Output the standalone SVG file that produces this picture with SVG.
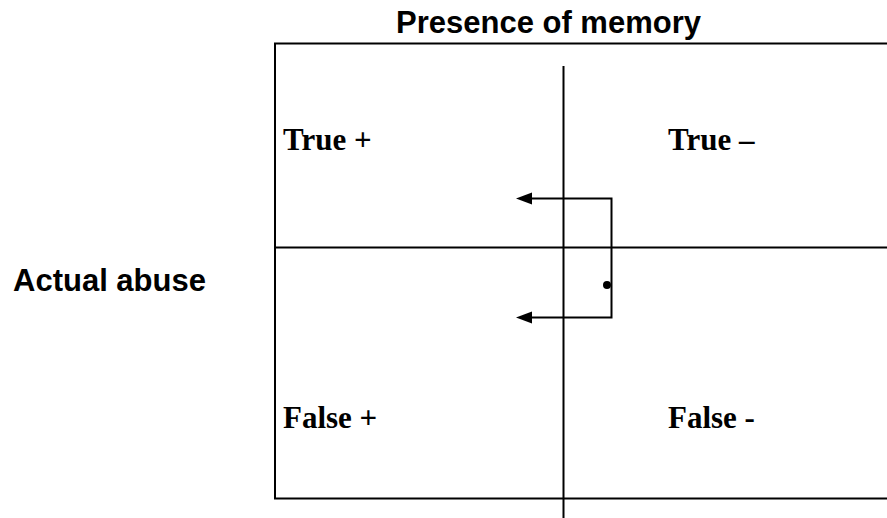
<svg xmlns="http://www.w3.org/2000/svg" width="887" height="518" viewBox="0 0 887 518">
<style>
.frame{fill:none;stroke:#000;stroke-width:2}
.ln{stroke:#000;stroke-width:2;fill:none}
.h{font-family:"Liberation Sans",Arial,sans-serif;font-weight:bold;font-size:31px;fill:#000}
.q{font-family:"Liberation Serif","Times New Roman",serif;font-weight:bold;font-size:31px;fill:#000}
</style>
<rect width="887" height="518" fill="#fff"/>
<g id="labels">
<text class="h" x="396" y="33">Presence of memory</text>
<text class="h" x="13" y="291">Actual abuse</text>
</g>
<g id="grid">
<path class="frame" d="M890,43.5 H275 V498.5 H890"/>
<line class="ln" x1="275" y1="247.5" x2="890" y2="247.5"/>
<line class="ln" x1="563.5" y1="66" x2="563.5" y2="518"/>
</g>
<g id="q-true-pos"><text class="q" x="283" y="150">True +</text></g>
<g id="q-true-neg"><text class="q" x="668" y="150">True –</text></g>
<g id="q-false-pos"><text class="q" x="283" y="428">False +</text></g>
<g id="q-false-neg"><text class="q" x="668" y="428">False -</text></g>
<g id="connectors">
<path class="ln" d="M611.5,285 V198.5 H532"/>
<path d="M516,198.5 L532,192.5 L532,204.5 z" fill="#000"/>
<path class="ln" d="M611.5,285 V317.5 H532"/>
<path d="M516,317.5 L532,311.5 L532,323.5 z" fill="#000"/>
<circle cx="607" cy="285" r="4" fill="#000"/>
</g>
</svg>
